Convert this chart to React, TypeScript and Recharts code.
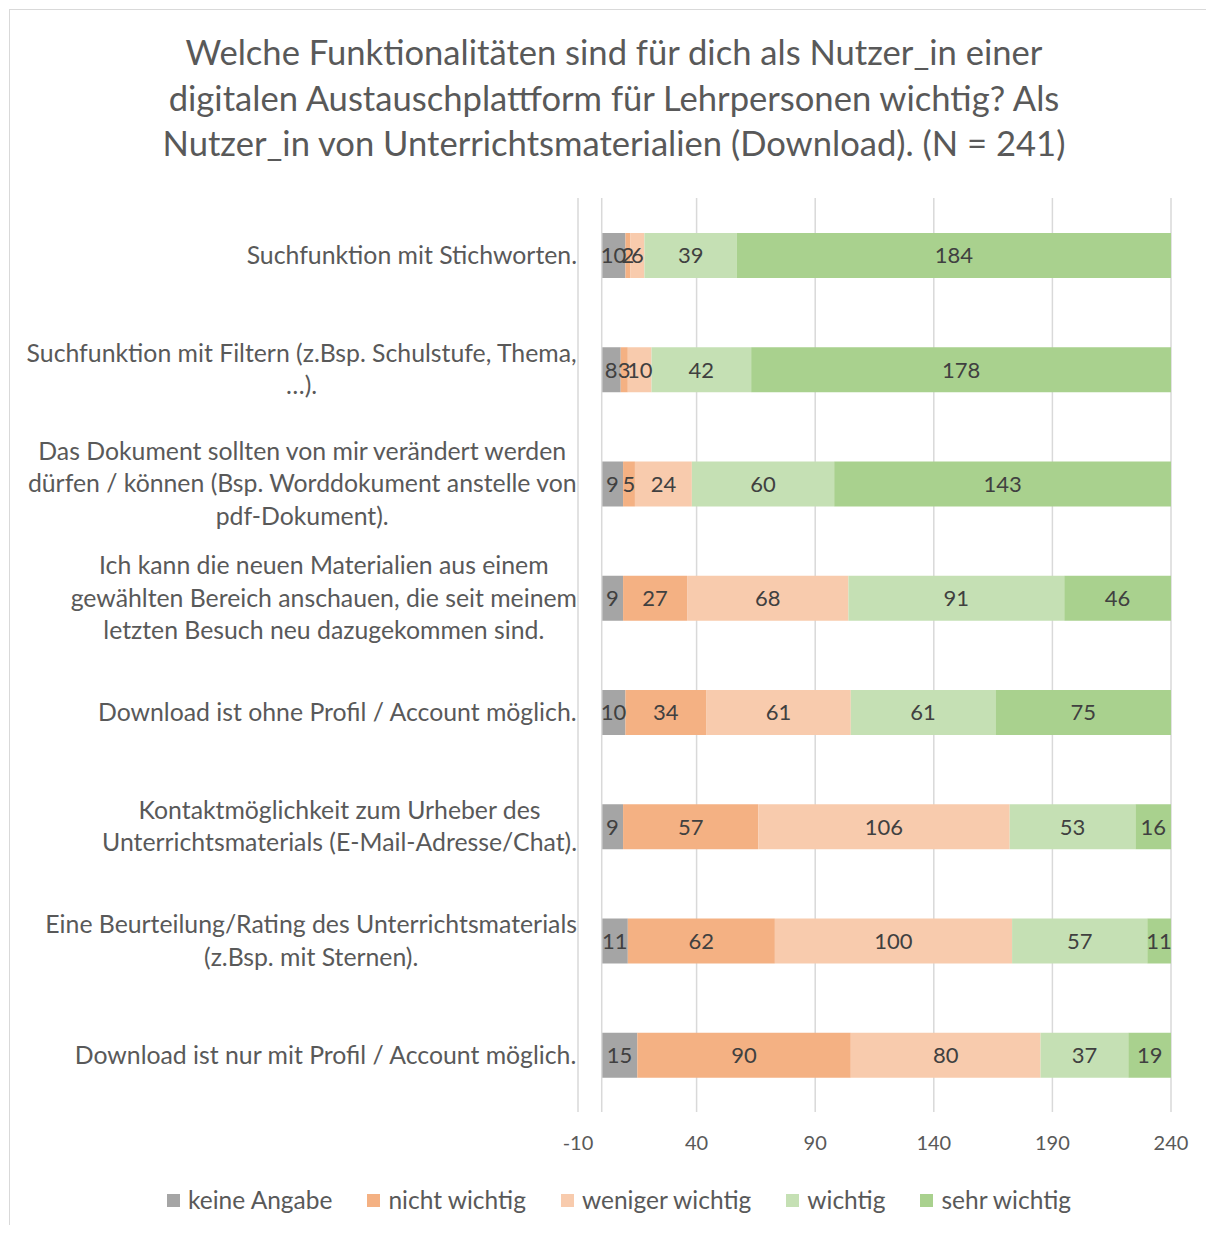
import { BarChart, Bar, XAxis, YAxis, CartesianGrid, ReferenceLine, LabelList } from "recharts";

const categories = [
  "Suchfunktion mit Stichworten.",
  "Suchfunktion mit Filtern (z.Bsp. Schulstufe, Thema,\n…).",
  "Das Dokument sollten von mir verändert werden\ndürfen / können (Bsp. Worddokument anstelle von\npdf-Dokument).",
  "Ich kann die neuen Materialien aus einem\ngewählten Bereich anschauen, die seit meinem\nletzten Besuch neu dazugekommen sind.",
  "Download ist ohne Profil / Account möglich.",
  "Kontaktmöglichkeit zum Urheber des\nUnterrichtsmaterials (E-Mail-Adresse/Chat).",
  "Eine Beurteilung/Rating des Unterrichtsmaterials\n(z.Bsp. mit Sternen).",
  "Download ist nur mit Profil / Account möglich.",
];

const keineAngabe = [10, 8, 9, 9, 10, 9, 11, 15];
const nichtWichtig = [2, 3, 5, 27, 34, 57, 62, 90];
const wenigerWichtig = [6, 10, 24, 68, 61, 106, 100, 80];
const wichtig = [39, 42, 60, 91, 61, 53, 57, 37];
const sehrWichtig = [184, 178, 143, 46, 75, 16, 11, 19];

const xTicks = [-10, 40, 90, 140, 190, 240];

const titleLines = [
  "Welche Funktionalitäten sind für dich als Nutzer_in einer",
  "digitalen Austauschplattform für Lehrpersonen wichtig? Als",
  "Nutzer_in von Unterrichtsmaterialien (Download). (N = 241)",
];

const SERIES = [
  { key: "keine", name: "keine Angabe", color: "#A5A5A5" },
  { key: "nicht", name: "nicht wichtig", color: "#F4B183" },
  { key: "weniger", name: "weniger wichtig", color: "#F8CBAD" },
  { key: "wichtig", name: "wichtig", color: "#C5E0B4" },
  { key: "sehr", name: "sehr wichtig", color: "#A9D18E" },
];

const data = categories.map((c, i) => ({
  name: c,
  keine: keineAngabe[i],
  nicht: nichtWichtig[i],
  weniger: wenigerWichtig[i],
  wichtig: wichtig[i],
  sehr: sehrWichtig[i],
}));

const FONT = "Lato, 'Open Sans', sans-serif";
const TEXT = "#595959";
const LABEL_SIZE = 24.8;

let ctx: CanvasRenderingContext2D | null = null;
function measure(s: string, size: number) {
  if (!ctx) ctx = document.createElement("canvas").getContext("2d");
  if (!ctx) return s.length * size * 0.5;
  ctx.font = `${size}px Lato`;
  return ctx.measureText(s).width;
}

// multi-line category label: widest line right-aligned, others centred on it
function CategoryTick(props: any) {
  const { x, y, payload } = props;
  const lines = String(payload.value).split("\n");
  const maxW = Math.max(...lines.map((l) => measure(l, LABEL_SIZE)));
  const cx = x + 6 - maxW / 2;
  const lh = 32.5;
  return (
    <g>
      {lines.map((l, i) => (
        <text
          key={i}
          x={cx}
          y={y + (i - (lines.length - 1) / 2) * lh}
          dy="0.35em"
          textAnchor="middle"
          fill={TEXT}
          fontSize={LABEL_SIZE}
          fontFamily={FONT}
        >
          {l}
        </text>
      ))}
    </g>
  );
}

export default function App() {
  return (
    <div style={{ position: "relative", width: 1214, height: 1233, margin: -8, overflow: "hidden", background: "#fff", fontFamily: FONT }}>
      <div style={{ position: "absolute", left: 9, top: 9, width: 1240, height: 1260, border: "1.5px solid #d9d9d9", boxSizing: "border-box" }} />
      <div style={{ position: "absolute", left: 14, width: 1200, top: 29, textAlign: "center", color: TEXT, fontSize: 34.6, lineHeight: "45.5px" }}>
        {titleLines.map((t) => (
          <div key={t} style={{ whiteSpace: "nowrap" }}>{t}</div>
        ))}
      </div>
      <div style={{ position: "absolute", left: 0, top: 0 }}>
        <BarChart
          width={1214}
          height={1233}
          data={data}
          layout="vertical"
          margin={{ top: 198, right: 43, bottom: 81, left: 0 }}
          barSize={45}
        >
          <CartesianGrid horizontal={false} stroke="#d9d9d9" strokeWidth={1.5} />
          <XAxis
            type="number"
            domain={[-10, 240]}
            ticks={xTicks}
            allowDataOverflow
            axisLine={false}
            tickLine={false}
            tickMargin={18}
            height={40}
            tick={{ fill: TEXT, fontSize: 20, fontFamily: FONT }}
          />
          <YAxis
            type="category"
            dataKey="name"
            width={578}
            axisLine={false}
            tickLine={false}
            tickMargin={1}
            tick={<CategoryTick />}
            interval={0}
          />
          <ReferenceLine x={0} stroke="#d9d9d9" strokeWidth={1.5} />
          {SERIES.map((s) => (
            <Bar key={s.key} dataKey={s.key} name={s.name} stackId="a" fill={s.color} isAnimationActive={false}>
              <LabelList dataKey={s.key} position="center" fill="#404040" fontSize={22} fontFamily={FONT} />
            </Bar>
          ))}
        </BarChart>
      </div>
      <div style={{ position: "absolute", left: 0, width: 1238, top: 1184, display: "flex", justifyContent: "center", gap: 35, color: TEXT, fontSize: 24.5, lineHeight: "32px" }}>
        {SERIES.map((s) => (
          <div key={s.key} style={{ display: "flex", alignItems: "center" }}>
            <span style={{ display: "inline-block", width: 13, height: 13, background: s.color, marginRight: 8 }} />
            <span>{s.name}</span>
          </div>
        ))}
      </div>
    </div>
  );
}
